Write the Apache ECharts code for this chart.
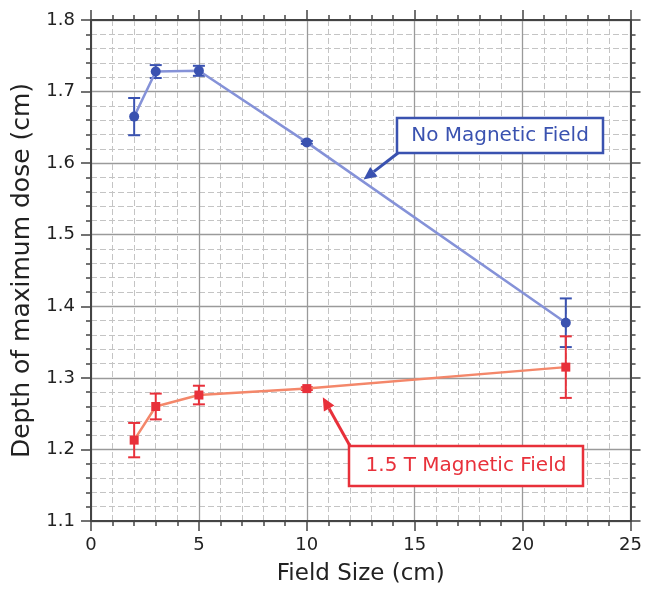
<!DOCTYPE html>
<html><head><meta charset="utf-8">
<script src="https://cdn.jsdelivr.net/npm/echarts@6/dist/echarts.min.js"></script>
<style>html,body{margin:0;padding:0;background:#fff}#c{width:645px;height:591px}</style>
</head><body><div id="c"></div>
<script>
var fieldSizes = [2, 3, 5, 10, 22];
var noFieldValues = [1.665, 1.728, 1.729, 1.629, 1.377];
var noFieldErrors = [0.026, 0.009, 0.007, 0.002, 0.034];
var magFieldValues = [1.213, 1.260, 1.276, 1.285, 1.315];
var magFieldErrors = [0.024, 0.018, 0.013, 0.002, 0.043];
var xAxisTitle = 'Field Size (cm)';
var yAxisTitle = 'Depth of maximum dose (cm)';
var noFieldLabel = 'No Magnetic Field';
var magFieldLabel = '1.5 T Magnetic Field';

var FONT = 'DejaVu Sans';
var BLUE = '#3a52b0', BLUE_LINE = '#8592d8';
var RED = '#e8303a', RED_LINE = '#f4876a';

function pairs(xs, ys){ return xs.map(function(x,i){ return [x, ys[i]]; }); }
function errData(xs, ys, es){ return xs.map(function(x,i){ return [x, ys[i]-es[i], ys[i]+es[i]]; }); }

function errSeries(data, color){
  return {
    type: 'custom', data: data, z: 5,
    renderItem: function(params, api){
      var lo = api.coord([api.value(0), api.value(1)]);
      var hi = api.coord([api.value(0), api.value(2)]);
      var w = 6;
      var st = {stroke: color, lineWidth: 2};
      return {type: 'group', children: [
        {type:'line', shape:{x1:lo[0], y1:lo[1], x2:hi[0], y2:hi[1]}, style: st},
        {type:'line', shape:{x1:lo[0]-w, y1:lo[1], x2:lo[0]+w, y2:lo[1]}, style: st},
        {type:'line', shape:{x1:hi[0]-w, y1:hi[1], x2:hi[0]+w, y2:hi[1]}, style: st}
      ]};
    }
  };
}

function axisBase(showLabels, showSplit){
  return {
    axisLine: {show: true, onZero: false, lineStyle: {color: '#444', width: 2}},
    axisTick: {show: true, inside: false, length: 10, lineStyle: {color: '#444', width: 1.5}},
    minorTick: {show: true, splitNumber: 5, length: 5, lineStyle: {color: '#444', width: 1.5}},
    splitLine: {show: showSplit, lineStyle: {color: '#9a9a9a', width: 1.3}},
    minorSplitLine: {show: showSplit, lineStyle: {color: '#c4c4c4', width: 1, type: [6, 3]}},
    axisLabel: {show: showLabels, color: '#222', fontFamily: FONT, fontSize: 18}
  };
}

var chart = echarts.init(document.getElementById('c'), null, {renderer: 'canvas'});
var xb = Object.assign(axisBase(true, true), {
  type: 'value', position: 'bottom', min: 0, max: 25, interval: 5,
  name: xAxisTitle, nameLocation: 'middle', nameGap: 42,
  nameTextStyle: {fontFamily: FONT, fontSize: 23, color: '#222'}
});
xb.axisLabel.margin = 15;
var xt = Object.assign(axisBase(false, false), {type: 'value', position: 'top', min: 0, max: 25, interval: 5});
var yl = Object.assign(axisBase(true, true), {
  type: 'value', position: 'left', min: 1.1, max: 1.8, interval: 0.1,
  name: yAxisTitle, nameLocation: 'middle', nameGap: 56,
  nameTextStyle: {fontFamily: FONT, fontSize: 25, color: '#222'}
});
yl.axisLabel.margin = 16;
yl.axisLabel.formatter = function(v){ return v.toFixed(1); };
var yr = Object.assign(axisBase(false, false), {type: 'value', position: 'right', min: 1.1, max: 1.8, interval: 0.1});

chart.setOption({
  animation: false,
  backgroundColor: '#fff',
  grid: {left: 91, right: 10, top: 20, bottom: 69, containLabel: false},
  xAxis: [xb, xt],
  yAxis: [yl, yr],
  series: [
    {type: 'line', data: pairs(fieldSizes, noFieldValues), symbol: 'circle', symbolSize: 10,
     lineStyle: {color: BLUE_LINE, width: 2.5}, itemStyle: {color: BLUE}, z: 6},
    errSeries(errData(fieldSizes, noFieldValues, noFieldErrors), BLUE),
    {type: 'line', data: pairs(fieldSizes, magFieldValues), symbol: 'rect', symbolSize: 9,
     lineStyle: {color: RED_LINE, width: 2.5}, itemStyle: {color: RED}, z: 6},
    errSeries(errData(fieldSizes, magFieldValues, magFieldErrors), RED)
  ]
});

function arrow(from, tip, color){
  var dx = tip[0]-from[0], dy = tip[1]-from[1];
  var len = Math.sqrt(dx*dx+dy*dy), ux = dx/len, uy = dy/len;
  var hl = 13, hw = 6;
  var bx = tip[0]-ux*hl, by = tip[1]-uy*hl;
  return [
    {type: 'line', shape: {x1: from[0], y1: from[1], x2: bx, y2: by}, style: {stroke: color, lineWidth: 3}, z: 20},
    {type: 'polygon', shape: {points: [tip, [bx - uy*hw, by + ux*hw], [bx + uy*hw, by - ux*hw]]}, style: {fill: color}, z: 20}
  ];
}

var blueTip = chart.convertToPixel({gridIndex: 0}, [12.63, 1.577]);
var redTip = chart.convertToPixel({gridIndex: 0}, [10.74, 1.273]);
var g = [];
g = g.concat(arrow([398, 153], blueTip, BLUE));
g = g.concat(arrow([350, 446], redTip, RED));
g.push({type: 'rect', shape: {x: 397, y: 118, width: 206, height: 35}, style: {fill: '#fff', stroke: BLUE, lineWidth: 2.5}, z: 21});
g.push({type: 'text', x: 500, y: 135.5, style: {text: noFieldLabel, fill: BLUE, font: '20px "DejaVu Sans"', textAlign: 'center', textVerticalAlign: 'middle'}, z: 22});
g.push({type: 'rect', shape: {x: 349, y: 446, width: 234, height: 40}, style: {fill: '#fff', stroke: RED, lineWidth: 2.5}, z: 21});
g.push({type: 'text', x: 466, y: 466, style: {text: magFieldLabel, fill: RED, font: '20px "DejaVu Sans"', textAlign: 'center', textVerticalAlign: 'middle'}, z: 22});
chart.setOption({graphic: g});
</script>
</body></html>
